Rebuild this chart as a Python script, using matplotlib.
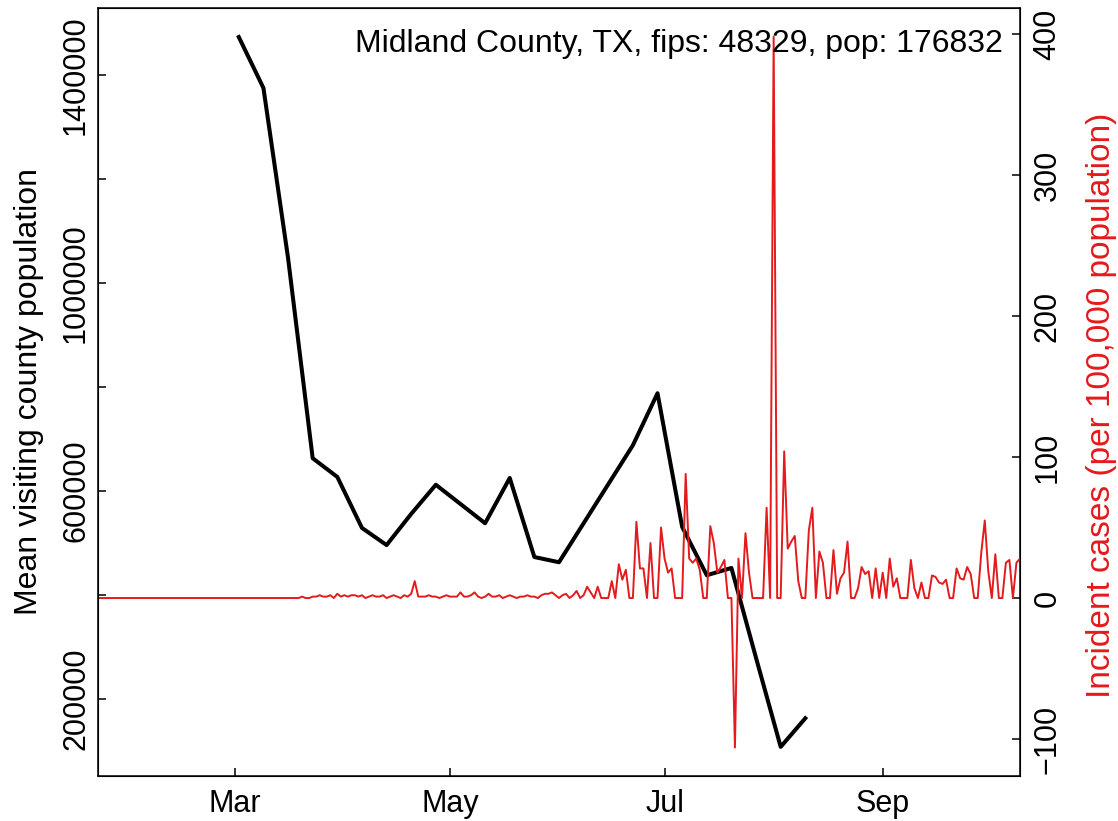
import matplotlib
matplotlib.use("Agg")
import matplotlib.pyplot as plt
import pandas as pd

plt.rcParams['font.family'] = ['Liberation Sans', 'DejaVu Sans']

# weekly mean visiting county population (from 2020-03-02)
visit_start = '2020-03-02'
visit_pop = [1473000, 1375000, 1048000, 663000, 627000, 529000, 496000, 556000,
             612000, 575000, 538000, 625000, 473000, 463000, 538000, 613000,
             688000, 788000, 531000, 438000, 452000, 279000, 108000, 163000]

# daily incident cases per 100,000 (from 2020-01-22)
case_start = '2020-01-22'
cases = (
    [0] * 58
    + [1, 0, 0, 1, 1, 2, 1, 1, 2, 0, 3, 1, 2, 1, 2, 2, 1, 2, 0, 1, 2, 1, 1, 2, 0, 1, 2, 1, 0, 2, 1, 3]
    + [12]
    + [1, 1, 1, 2, 1, 1, 0, 1, 2, 1, 1, 1]
    + [4, 1, 1, 2, 4, 1, 0, 1, 3, 1, 1, 2, 0, 1, 2, 1, 0, 1, 1, 2, 1, 1, 0, 2, 3, 3, 4, 2, 0, 2]
    + [3, 0, 2, 5, 0, 2, 8, 4, 0, 8, 0, 0, 0, 12, 0, 24, 13, 20, 0, 0, 54, 21, 21, 0, 39, 0, 0,
       50, 28, 18, 21, 0, 0, 0, 88, 28, 25, 28, 20, 0, 0, 51, 39, 18, 22, 27, 0, 0, -106, 28,
       0, 46, 18, 0, 0, 0, 0, 64, 0, 398, 0, 0, 104, 35, 40, 44, 12, 0, 0, 48, 64, 0, 33, 25,
       0, 0, 34, 3, 14, 18, 40, 0, 0, 7, 22, 17, 19, 0, 21, 0, 18, 0, 28, 8, 14, 0, 0, 0, 27,
       7, 0, 11, 0, 0, 16, 15, 11, 10, 13, 0, 0, 21, 14, 13, 22, 17, 0, 0, 32, 55, 19, 0, 31,
       0, 0, 25, 27, 0, 25, 28]
)

title = "Midland County, TX, fips: 48329, pop: 176832"
left_ticks = [200000, 400000, 600000, 800000, 1000000, 1200000, 1400000]
left_labels = ['200000', '', '600000', '', '1000000', '', '1400000']
right_ticks = [-100, 0, 100, 200, 300, 400]
month_ticks = ['2020-03-01', '2020-05-01', '2020-07-01', '2020-09-01']
month_labels = ['Mar', 'May', 'Jul', 'Sep']

red = '#E41A1C'
fs = 22

visit_dates = pd.date_range(visit_start, periods=len(visit_pop), freq='7D')
case_dates = pd.date_range(case_start, periods=len(cases), freq='D')

fig = plt.figure(figsize=(11.18, 8.21), dpi=100)
ax = fig.add_axes([0.0877, 0.0548, 0.8246, 0.9355])
ax.plot(visit_dates, visit_pop, color='black', lw=2.9)
ax.set_ylim(51923, 1528846)
ax.set_xlim(case_dates[0], case_dates[-1])
ax.set_yticks(left_ticks)
ax.set_yticklabels(left_labels, rotation=90, va='center')
ax.set_xticks(pd.to_datetime(month_ticks))
ax.set_xticklabels(month_labels)
ax.tick_params(direction='in', length=6, width=1.1, labelsize=fs, pad=9)
ax.tick_params(axis='y', pad=5)
ax.set_ylabel("Mean visiting county population", fontsize=23, labelpad=12)
for s in ax.spines.values():
    s.set_linewidth(1.1)

# incident cases on the secondary axis
ax2 = ax.twinx()
ax2.plot(case_dates, cases, color=red, lw=1.4)
ax2.set_ylim(-126.2, 418.4)
ax2.set_yticks(right_ticks)
ax2.set_yticklabels([str(t).replace('-', '\u2212') for t in right_ticks], rotation=90, va='center')
ax2.tick_params(direction='in', length=6, width=1.1, labelsize=fs, pad=9)
ax2.set_ylabel("Incident cases (per 100,000 population)", fontsize=24, color=red)
ax2.yaxis.set_label_coords(1.072, 0.483)
ax2.set_xlim(case_dates[0], case_dates[-1])

ax2.text(0.982, 0.972, title, transform=ax2.transAxes, ha='right', va='top', fontsize=23)

fig.savefig('out.png', dpi=100)
